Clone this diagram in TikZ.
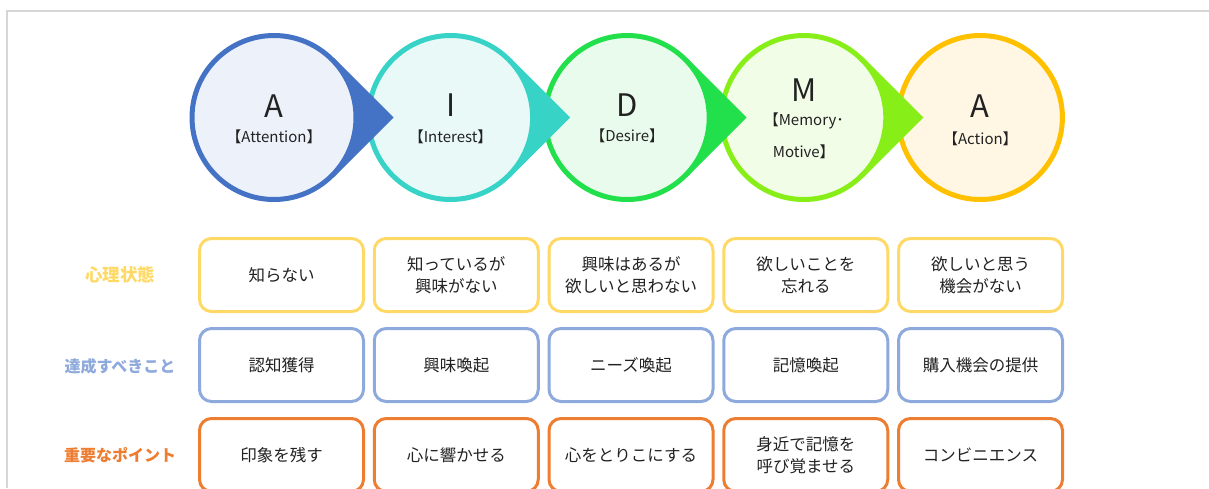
\documentclass[tikz,border=0pt]{standalone}
\usepackage{fontspec}
\setmainfont{Noto Sans CJK JP}
\definecolor{cA}{HTML}{4472C4}\definecolor{fA}{HTML}{EDF1FA}
\definecolor{cI}{HTML}{36D3C6}\definecolor{fI}{HTML}{E9F9F8}
\definecolor{cD}{HTML}{22E04B}\definecolor{fD}{HTML}{E9FBEC}
\definecolor{cM}{HTML}{88EE17}\definecolor{fM}{HTML}{F2FDE8}
\definecolor{cX}{HTML}{FFC000}\definecolor{fX}{HTML}{FFF7E3}
\definecolor{rowone}{HTML}{FFD966}
\definecolor{rowtwo}{HTML}{8EA9DB}
\definecolor{rowthree}{HTML}{ED7D31}
\definecolor{txt}{HTML}{222222}
\definecolor{frame}{HTML}{D6D6D6}
\tikzset{
  stage/.style={circle, minimum size=164pt, line width=5pt, inner sep=0pt},
  cell/.style={rectangle, rounded corners=12pt, minimum width=164pt, minimum height=73pt,
    line width=3pt, fill=white, align=center, text=txt, inner sep=0pt,
    font=\fontsize{16.5}{22}\selectfont},
  rowlabel/.style={font=\bfseries\fontsize{16}{20}\selectfont, inner sep=0pt},
  big/.style={font=\fontsize{31}{31}\selectfont, inner sep=0pt, text=txt},
  sub/.style={font=\fontsize{15}{15}\selectfont, inner sep=0pt, text=txt},
}
\begin{document}
\begin{tikzpicture}[x=1pt,y=-1pt]
\useasboundingbox (0,0) rectangle (1209,488);
% frame
\draw[frame, line width=1.3pt] (7,488) -- (7,11) -- (1209,11);
% centres
\coordinate (p1) at (274,117.5);
\coordinate (p2) at (450.6,117.5);
\coordinate (p3) at (627.2,117.5);
\coordinate (p4) at (803.8,117.5);
\coordinate (p5) at (980.4,117.5);
% stage 5
\node[stage, draw=cX, fill=fX] (c5) at (p5) {};
% stage 4
\fill[cM] (p4) -- ([shift={(45:84.5)}]p4) -- ([shift={(119.5,0)}]p4) -- ([shift={(-45:84.5)}]p4) -- cycle;
\node[stage, draw=cM, fill=fM] (c4) at (p4) {};
% stage 3
\fill[cD] (p3) -- ([shift={(45:84.5)}]p3) -- ([shift={(119.5,0)}]p3) -- ([shift={(-45:84.5)}]p3) -- cycle;
\node[stage, draw=cD, fill=fD] (c3) at (p3) {};
% stage 2
\fill[cI] (p2) -- ([shift={(45:84.5)}]p2) -- ([shift={(119.5,0)}]p2) -- ([shift={(-45:84.5)}]p2) -- cycle;
\node[stage, draw=cI, fill=fI] (c2) at (p2) {};
% stage 1
\fill[cA] (p1) -- ([shift={(45:84.5)}]p1) -- ([shift={(119.5,0)}]p1) -- ([shift={(-45:84.5)}]p1) -- cycle;
\node[stage, draw=cA, fill=fA] (c1) at (p1) {};
% circle texts
\node[big] (l1) at (274,106) {A};
\node[sub] (s1) at (274,137) {【Attention】};
\node[big] (l2) at (450.6,105) {I};
\node[sub] (s2) at (450.6,137) {【Interest】};
\node[big] (l3) at (627.2,105) {D};
\node[sub] (s3) at (627.2,136) {【Desire】};
\node[big] (l4) at (803.8,90) {M};
\node[sub] (s4a) at (803.8,121) {【Memory･};
\node[sub] (s4b) at (803.8,152) {Motive】};
\node[big] (l5) at (980.4,106) {A};
\node[sub] (s5) at (980.4,139) {【Action】};
% row labels
\node[rowlabel, text=rowone, font=\bfseries\fontsize{17.5}{20}\selectfont] (r1) at (120,275) {心理状態};
\node[rowlabel, text=rowtwo] (r2) at (120,366) {達成すべきこと};
\node[rowlabel, text=rowthree] (r3) at (120,455) {重要なポイント};
% row 1
\node[cell, draw=rowone] (a1) at (281.5,275) {知らない};
\node[cell, draw=rowone] (a2) at (456.25,275) {知っているが\\興味がない};
\node[cell, draw=rowone] (a3) at (631,275) {興味はあるが\\欲しいと思わない};
\node[cell, draw=rowone] (a4) at (805.75,275) {欲しいことを\\忘れる};
\node[cell, draw=rowone] (a5) at (980.5,275) {欲しいと思う\\機会がない};
% row 2
\node[cell, draw=rowtwo] (b1) at (281.5,365) {認知獲得};
\node[cell, draw=rowtwo] (b2) at (456.25,365) {興味喚起};
\node[cell, draw=rowtwo] (b3) at (631,365) {ニーズ喚起};
\node[cell, draw=rowtwo] (b4) at (805.75,365) {記憶喚起};
\node[cell, draw=rowtwo] (b5) at (980.5,365) {購入機会の提供};
% row 3
\node[cell, draw=rowthree] (d1) at (281.5,455) {印象を残す};
\node[cell, draw=rowthree] (d2) at (456.25,455) {心に響かせる};
\node[cell, draw=rowthree] (d3) at (631,455) {心をとりこにする};
\node[cell, draw=rowthree] (d4) at (805.75,455) {身近で記憶を\\呼び覚ませる};
\node[cell, draw=rowthree] (d5) at (980.5,455) {コンビニエンス};
\end{tikzpicture}
\end{document}
